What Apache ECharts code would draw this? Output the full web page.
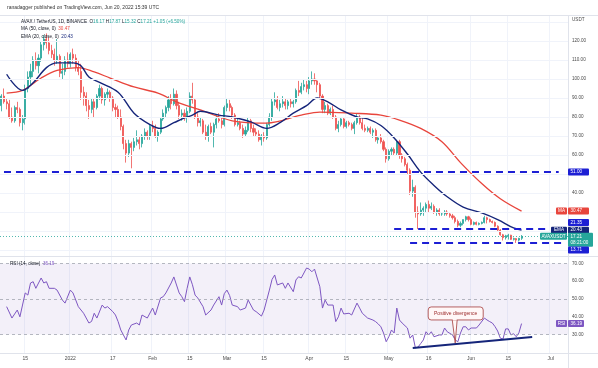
<!DOCTYPE html>
<html><head><meta charset="utf-8">
<script src="https://cdn.jsdelivr.net/npm/echarts@6/dist/echarts.min.js"></script>
<style>html,body{margin:0;padding:0;background:#fff}#c{width:598px;height:368px}</style>
</head><body><div id="c"></div>
<script>
// ---------- data ----------
const startDate = [2021, 11, 6];   // 6 Dec 2021 (UTC, month 0-based)
const totalDays = 214;             // axis runs to 7 Jul 2022

const opens = [
86,91,88,87,80,78,85,84,77,79,
95,101,104,110,107,111,118,121,119,115,
113,110,112,103,104,110,108,113,111,106,
104,93,91,86,84,88,85,91,95,89,
92,93,90,85,84,80,75,66,61,66,
64,67,68,66,70,72,70,75,74,70,
72,79,82,85,89,87,92,86,81,82,
80,83,91,89,80,77,78,72,70,75,
72,76,79,78,76,85,87,85,81,76,
77,74,71,73,78,74,72,71,68,70,
69,76,80,88,89,85,87,88,86,88,
87,88,94,93,96,97,95,99,100,99,
97,91,84,86,82,84,80,74,76,79,
75,77,76,74,77,80,77,74,73,74,
72,73,68,69,67,63,58,62,63,61,
67,60,58,55,52,41,43,30,29,31,
32,34,32,33,30,31,29,29,30,29,
28,27,25,23,24,26,27.5,26,23.5,24.5,
23.5,24,24.5,27,26,25,24.5,22.5,20.5,18,
16.5,17.5,17.8,15.6,16,15.2,16.17];
const highs = [
92,95,90,89,85,86,88,85,81,97,
104,108,112,114,113,120,123,124,122,118,
116,121,113,108,112,114,114,116,113,110,
108,96,93,89,90,90,92,97,96,93,
95,94,91,87,86,84,76,68,68,67,
69,73,70,71,74,73,76,78,76,73,
80,84,86,91,92,95,94,88,84,84,
85,93,98,90,82,80,79,76,76,77,
77,81,82,80,86,90,89,86,82,79,
78,76,75,80,79,76,74,73,71,72,
77,82,90,93,91,89,91,90,89,90,
89,95,99,98,100,99,101,104,103,100,
98,92,88,87,85,86,81,78,80,80,
78,78,77,78,82,81,80,76,75,75,
74,74,70,71,68,64,63,64,64,68,
68,61,59,56,53,47,44,33,35,33,
35,36,35,34,32,32,30,31,31,30,
29,28,26,25,26,28,28,27,25,25,
24.5,25,28,27.5,26.5,25.5,25,23,21,18.5,
18,18.5,18,16.5,16.3,16.4,17.87];
const lows = [
83,87,84,79,77,77,82,75,73,76,
93,97,101,105,103,109,115,116,113,111,
107,108,101,100,102,106,106,108,104,102,
89,86,83,79,82,80,84,89,87,86,
90,88,83,80,79,73,63,56,59,53,
62,65,63,64,68,68,68,72,69,67,
71,78,80,83,84,86,84,79,78,78,
77,82,87,79,75,75,71,68,67,71,
64,74,77,74,75,83,83,79,75,75,
73,69,70,72,72,70,70,67,65,67,
68,75,78,86,84,83,85,84,84,85,
85,87,91,92,94,93,92,97,97,93,
90,82,82,81,81,79,73,72,75,74,
74,75,73,71,76,76,73,72,72,71,
69,67,66,66,62,56,57,60,60,60,
58,56,54,50,39,38,27,21,28,28,
30,30,31,29,28,28,28,28,28,27,
26,24,22,22,23,25,25,23,23,23,
23,23.5,24,24,24.5,24,22,20,17.5,15,
15.5,15.5,15.3,15,13.71,14.5,15.32];
const closes = [
91,88,87,80,78,85,84,77,79,95,
101,104,110,107,111,118,121,119,115,113,
110,112,103,104,110,108,113,111,106,104,
93,91,86,84,88,85,91,95,89,92,
93,90,85,84,80,75,66,61,66,64,
67,68,66,70,72,70,75,74,70,72,
79,82,85,89,87,92,86,81,82,80,
83,91,89,80,77,78,72,70,75,72,
76,79,78,76,85,87,85,81,76,77,
74,71,73,78,74,72,71,68,70,69,
76,80,88,89,85,87,88,86,88,87,
88,94,93,96,97,95,99,100,99,97,
91,84,86,82,84,80,74,76,79,75,
77,76,74,77,80,77,74,73,74,72,
73,68,69,67,63,58,62,63,61,67,
60,58,55,52,41,43,30,29,31,32,
34,32,33,30,31,29,29,30,29,28,
27,25,23,24,26,27.5,26,23.5,24.5,23.5,
24,24.5,27,26,25,24.5,22.5,20.5,18,16.5,
17.5,17.8,15.6,16,15.2,16.17,17.21];

// MA(50) and EMA(20): [day index, value]
const maPoints = [[2,92.6],[8,94],[15,100.5],[21,104.5],[29,106],[35,103.7],[41,100.5],[50,95.8],[59,92.6],[66,88],[75,83.7],[87,78],[100,76.8],[113,81],[120,82.6],[132,82],[143,81],[150,78.4],[158,74],[166,67],[173,56],[181,45],[188,37],[196,30.47]];
const emaPoints = [[2,102.5],[8,94],[12,98],[17,106],[21,108.5],[27,108.5],[30,107],[33,101],[37,98.2],[44,93],[50,82],[56,76],[60,74],[65,77],[69,79.5],[72,81],[75,83],[82,81],[87,80],[94,77.4],[100,74],[105,77],[110,82],[115,86],[119,90],[123,88],[128,83.7],[134,80],[138,79],[143,75.5],[148,69],[153,60.5],[158,51],[163,44],[168,38],[174,32.6],[181,29.5],[187,26],[193,21.6],[196,20.43]];
// RSI(14): [day index, value]
const rsiPoints = [[2,45.7],[4,39.3],[6,43.8],[7,40],[9,53.4],[10,52.2],[11,59],[12,59.7],[13,56],[15,61.8],[16,59],[17,59.7],[18,56],[20,56],[21,55],[23,49.4],[24,47.7],[26,55],[27,53.4],[29,45.7],[31,42],[33,36.5],[34,37.4],[35,42],[36,39.3],[38,46.6],[39,44.9],[40,45.7],[42,42.9],[43,41],[44,37.3],[45,32.6],[47,27],[48,32.6],[49,35.4],[51,36.5],[52,35.4],[53,41],[55,39.3],[57,44.9],[58,41],[60,50.6],[61,51.3],[62,53.4],[64,59],[65,62.4],[67,53.4],[68,51.3],[69,48.5],[70,56],[71,62.4],[72,58],[73,52.2],[74,50.6],[76,45.7],[77,41],[79,43.8],[80,46.6],[82,51.3],[83,46.6],[84,53],[85,55],[86,52],[87,46.6],[89,45.7],[90,43.8],[92,44.9],[93,49.4],[95,43.8],[96,42.9],[98,40.4],[99,43.8],[101,55],[102,61],[103,63.5],[104,57.9],[106,59],[107,56],[108,59],[110,54.1],[111,60.7],[112,62.5],[113,61.8],[115,67.4],[116,66.8],[117,65.3],[118,66.8],[120,56.9],[121,44.9],[122,49.4],[123,46.6],[125,46.6],[126,37.3],[127,40],[128,44.9],[129,41.6],[131,42],[132,41],[134,47.7],[135,44.9],[136,42],[138,39.3],[140,38.2],[141,37.3],[142,36],[143,34.4],[144,30.9],[145,26],[146,28.8],[147,32.6],[148,30.9],[149,44.9],[150,38.2],[151,36.5],[153,33.7],[154,28],[155,29.8],[156,22.5],[157,23],[158,25],[159,27],[160,31.6],[161,29.8],[162,31.6],[163,28.8],[165,29.8],[166,29.8],[167,33.7],[168,31.6],[170,29.8],[171,27],[172,26],[173,30.9],[174,34.4],[175,34.4],[176,32.6],[177,33.7],[179,33.7],[180,35.4],[182,39.3],[183,38.2],[184,37.3],[185,36.5],[186,34.5],[187,32],[188,28],[189,27.5],[190,33.2],[191,33.2],[192,29.8],[193,30.5],[194,28.8],[195,31],[196,36.19]];

// horizontal levels drawn on the chart
const level51 = 51.00, level21 = 21.35, level13 = 13.71;
const level51Days = [1, 210], level21Days = [148, 206], level13Days = [154, 212];
const trendDays = [155, 200], trendValues = [22.5, 28.7];
const calloutDay = 171, calloutValue = 25.3;

const lastMA = 30.47, lastEMA = 20.43, lastClose = 17.21, lastRSI = 36.19;

const priceTicks = [40, 60, 70, 80, 90, 100, 110, 120];
const priceGridLevels = [10, 20, 30, 40, 50, 60, 70, 80, 90, 100, 110, 120, 130];
const rsiTicks = [30, 40, 50, 60, 70];
const rsiDashed = [30, 50, 70];

const xTickDates = ['2021-12-15','2022-01-01','2022-01-17','2022-02-01','2022-02-15','2022-03-01','2022-03-15','2022-04-01','2022-04-15','2022-05-01','2022-05-16','2022-06-01','2022-06-15','2022-07-01'];
const xTickLabels = ['15','2022','17','Feb','15','Mar','15','Apr','15','May','16','Jun','15','Jul'];

// ---------- build ----------
const dates = [];
const d0 = Date.UTC(startDate[0], startDate[1], startDate[2]);
for (let i = 0; i < totalDays; i++) dates.push(new Date(d0 + i * 86400000).toISOString().slice(0, 10));
const tickMap = {};
xTickDates.forEach((d, i) => tickMap[d] = xTickLabels[i]);
const isTick = (idx, val) => tickMap[val] !== undefined;

const candleData = opens.map((o, i) => [o, closes[i], lows[i], highs[i]]);
const toXY = pts => pts.map(([i, v]) => [dates[i], v]);

const FONT = '"Liberation Sans", Arial, sans-serif';
const UP = '#26a69a', DOWN = '#ef5350', MA_C = '#e8453c', EMA_C = '#15257a', BLUE = '#1d1fd4', RSI_C = '#7e57c2';
const GRIDC = '#f0f3fa';

const chart = echarts.init(document.getElementById('c'), null, {renderer: 'canvas'});

const segStyle = {color: BLUE, width: 2, type: [7, 5]};
const option = {
  animation: false,
  backgroundColor: '#ffffff',
  grid: [
    {left: 0, right: 30, top: 15, height: 241},
    {left: 0, right: 30, top: 256, height: 97}
  ],
  xAxis: [
    {type: 'category', gridIndex: 0, data: dates, boundaryGap: true,
      axisLine: {show: false}, axisTick: {show: false}, axisLabel: {show: false},
      splitLine: {show: true, interval: isTick, lineStyle: {color: GRIDC, width: 1}}},
    {type: 'category', gridIndex: 1, data: dates, boundaryGap: true,
      axisLine: {show: false}, axisTick: {show: false},
      axisLabel: {show: true, interval: isTick, formatter: v => tickMap[v] || '', fontSize: 5, color: '#4a4a4a', margin: 3, fontFamily: FONT},
      splitLine: {show: true, interval: isTick, lineStyle: {color: GRIDC, width: 1}}}
  ],
  yAxis: [
    {type: 'value', gridIndex: 0, min: 6.842, max: 133.684, show: false},
    {type: 'value', gridIndex: 1, min: 19.663, max: 74.157, show: false}
  ],
  series: [
    {type: 'line', name: 'grid', xAxisIndex: 0, yAxisIndex: 0, data: [], silent: true, z: 1,
      markLine: {silent: true, symbol: ['none', 'none'], label: {show: false}, animation: false,
        data: priceGridLevels.map(v => ({yAxis: v, lineStyle: {color: GRIDC, width: 1, type: 'solid'}}))
          .concat([{yAxis: lastClose, lineStyle: {color: UP, width: 0.8, type: [1, 2]}}])}},
    {type: 'candlestick', name: 'AVAXUSDT', xAxisIndex: 0, yAxisIndex: 0, data: candleData, barWidth: 1.6, z: 3,
      itemStyle: {color: UP, color0: DOWN, borderColor: UP, borderColor0: DOWN, borderWidth: 0.8},
      markLine: {silent: true, symbol: ['none', 'none'], label: {show: false}, animation: false, lineStyle: segStyle,
        data: [
          [{coord: [dates[level51Days[0]], level51], lineStyle: segStyle}, {coord: [dates[level51Days[1]], level51]}],
          [{coord: [dates[level21Days[0]], level21], lineStyle: segStyle}, {coord: [dates[level21Days[1]], level21]}],
          [{coord: [dates[level13Days[0]], level13], lineStyle: segStyle}, {coord: [dates[level13Days[1]], level13]}]
        ]}},
    {type: 'line', name: 'MA', xAxisIndex: 0, yAxisIndex: 0, data: toXY(maPoints), smooth: 0.35,
      symbol: 'none', z: 4, lineStyle: {color: MA_C, width: 1.3}},
    {type: 'line', name: 'EMA', xAxisIndex: 0, yAxisIndex: 0, data: toXY(emaPoints), smooth: 0.35,
      symbol: 'none', z: 4, lineStyle: {color: EMA_C, width: 1.4}},
    {type: 'line', name: 'RSI', xAxisIndex: 1, yAxisIndex: 1, data: toXY(rsiPoints), symbol: 'none', z: 4,
      lineStyle: {color: RSI_C, width: 1},
      markArea: {silent: true, itemStyle: {color: 'rgba(126,87,194,0.09)'}, data: [[{yAxis: 30}, {yAxis: 70}]]},
      markLine: {silent: true, symbol: ['none', 'none'], label: {show: false}, animation: false,
        data: rsiDashed.map(v => ({yAxis: v, lineStyle: {color: '#a3a6b0', width: 0.8, type: [3, 3]}}))
          .concat([[{coord: [dates[trendDays[0]], trendValues[0]], lineStyle: {color: EMA_C, width: 2, type: 'solid'}},
                    {coord: [dates[trendDays[1]], trendValues[1]]}]])}}
  ]
};
chart.setOption(option);

// ---------- overlay texts / axis boxes ----------
const g = [];
function txt(x, y, text, fill, size, align) {
  g.push({type: 'text', x: x, y: y, silent: true, z: 100,
    style: {text: text, fill: fill, font: size + 'px ' + FONT, textAlign: align || 'left', textVerticalAlign: 'middle', verticalAlign: 'middle'}});
}
function richTxt(x, y, parts, size) {
  const rich = {};
  let text = '';
  parts.forEach((p, i) => { rich['p' + i] = {fill: p[1], fontSize: size, fontFamily: FONT}; text += '{p' + i + '|' + p[0] + '}'; });
  g.push({type: 'text', x: x, y: y, silent: true, z: 100,
    style: {text: text, rich: rich, font: size + 'px ' + FONT, textAlign: 'left', textVerticalAlign: 'middle', verticalAlign: 'middle'}});
}
function rect(x, y, w, h, fill, stroke, r) {
  g.push({type: 'rect', silent: true, z: 99, shape: {x: x, y: y, width: w, height: h, r: r == null ? 1 : r},
    style: {fill: fill, stroke: stroke || null, lineWidth: stroke ? 0.8 : 0}});
}
function line(x1, y1, x2, y2, c) {
  g.push({type: 'line', silent: true, z: 98, shape: {x1: x1, y1: y1, x2: x2, y2: y2}, style: {stroke: c, lineWidth: 1}});
}
const py = v => chart.convertToPixel({yAxisIndex: 0}, v);
const pr = v => chart.convertToPixel({yAxisIndex: 1}, v);
const AX = 568, LX = 572, AF = 4.6, BH = 7;

// borders
line(0, 15.5, 598, 15.5, '#e0e3eb');
line(0, 256.5, 598, 256.5, '#e0e3eb');
line(0, 353.5, 598, 353.5, '#e0e3eb');
line(AX + 0.5, 15, AX + 0.5, 368, '#e0e3eb');

// axis labels
txt(LX, 20, 'USDT', '#4a4a4a', AF);
priceTicks.forEach(v => txt(LX, py(v), v.toFixed(2), '#4a4a4a', AF));
rsiTicks.forEach(v => txt(LX, pr(v), v.toFixed(2), '#4a4a4a', AF));

function axisBox(yc, text, color, w) {
  rect(AX, yc - BH / 2, w || 21, BH, color);
  txt(AX + 2.5, yc, text, '#fff', AF);
}
function tagBox(yc, text, color, w) {
  rect(AX - 1 - w, yc - BH / 2, w, BH, color);
  txt(AX - 1 - w / 2, yc, text, '#fff', AF, 'center');
}
axisBox(py(level51), level51.toFixed(2), BLUE);
tagBox(py(lastMA), 'MA', MA_C, 11); axisBox(py(lastMA), lastMA.toFixed(2), MA_C);
axisBox(py(level21) - 6, level21.toFixed(2), BLUE);
tagBox(py(lastEMA), 'EMA', EMA_C, 16); axisBox(py(lastEMA), lastEMA.toFixed(2), EMA_C);
const yc = py(lastClose);
tagBox(yc, 'AVAXUSDT', UP, 27);
rect(AX, yc - 3.5, 25, 14, UP);
txt(AX + 2.5, yc, lastClose.toFixed(2), '#fff', AF);
txt(AX + 2.5, yc + 6.5, '08:21:00', '#fff', AF);
axisBox(py(level13) + 7, level13.toFixed(2), BLUE);
tagBox(pr(lastRSI), 'RSI', RSI_C, 11); axisBox(pr(lastRSI), lastRSI.toFixed(2), RSI_C, 16);

// header
const DK = '#131722';
txt(7, 8, 'ranadagger published on TradingView.com, Jun 20, 2022 15:39 UTC', '#333', 5);
richTxt(21, 21.5, [['AVAX / TetherUS, 1D, BINANCE  ', DK], ['O', DK], ['16.17 ', UP], ['H', DK], ['17.87 ', UP], ['L', DK], ['15.32 ', UP], ['C', DK], ['17.21 +1.05 (+6.50%)', UP]], 4.6);
richTxt(21, 29, [['MA (50, close, 0)  ', DK], [lastMA.toFixed(2), MA_C]], 4.6);
richTxt(21, 36.5, [['EMA (20, close, 0)  ', DK], [lastEMA.toFixed(2), EMA_C]], 4.6);
richTxt(10, 264, [['RSI (14, close)  ', DK], [lastRSI.toFixed(2), RSI_C]], 4.6);

// callout "Positive divergence"
const tip = chart.convertToPixel({gridIndex: 1}, [dates[calloutDay], calloutValue]);
const bx = tip[0] - 27, by = tip[1] - 36, bw = 55, bh = 13;
g.push({type: 'polygon', silent: true, z: 99, shape: {points: [[tip[0] - 3, by + bh - 0.5], [tip[0] + 2, by + bh - 0.5], [tip[0], tip[1]]]},
  style: {fill: '#fff7f7', stroke: '#a33a3a', lineWidth: 0.8}});
rect(bx, by, bw, bh, '#fff7f7', '#a33a3a', 3);
g.push({type: 'rect', silent: true, z: 99.5, shape: {x: tip[0] - 2.5, y: by + bh - 1.2, width: 4, height: 1.6}, style: {fill: '#fff7f7'}});
txt(bx + bw / 2, by + bh / 2, 'Positive divergence', '#9c2b2b', 5, 'center');

chart.setOption({graphic: {elements: g}});
</script>
</body></html>
